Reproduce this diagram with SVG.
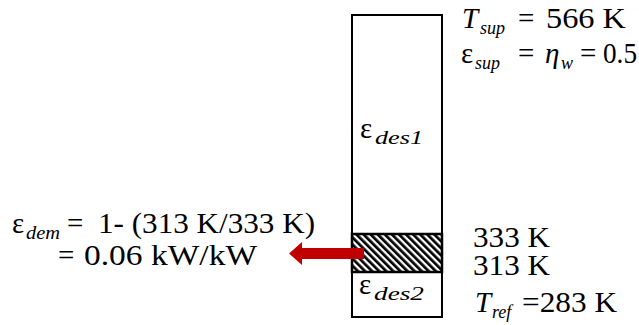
<svg xmlns="http://www.w3.org/2000/svg" width="639" height="325" viewBox="0 0 639 325">
  <style>
    text { font-family: "Liberation Serif", "Times New Roman", serif; font-size: 29px; fill: #000; }
    .i { font-style: italic; }
    .sub { font-style: italic; font-size: 18px; }
    .box { fill: #fff; stroke: #000; stroke-width: 2; }
  </style>
  <defs>
    <!-- diagonal black/white hatching for the 313–333 K band -->
    <pattern id="hatch" patternUnits="userSpaceOnUse" width="5" height="5" patternTransform="rotate(-45)">
      <rect width="5" height="5" fill="#fff"/>
      <rect width="2.7" height="5" fill="#000"/>
    </pattern>
  </defs>

  <!-- storage column -->
  <g id="column">
    <rect class="box" x="352" y="15" width="90" height="302"/>
  </g>

  <!-- hatched band between 333 K and 313 K -->
  <g id="band">
    <rect x="352" y="234" width="90" height="38" fill="url(#hatch)" stroke="#000" stroke-width="2.5"/>
  </g>

  <g id="connectors">
    <path d="M364,248 L302,248 L302,242 L289,253.5 L302,265 L302,259 L364,259 Z" fill="#c00000"/>
  </g>

  <g id="label-des1">
    <text x="360" y="138">ε</text>
    <text class="sub" x="375" y="144" textLength="48" lengthAdjust="spacingAndGlyphs">des1</text>
  </g>
  <g id="label-des2">
    <text x="359" y="294">ε</text>
    <text class="sub" x="374" y="300" textLength="50" lengthAdjust="spacingAndGlyphs">des2</text>
  </g>

  <g id="label-sup">
    <text class="i" x="462" y="28">T</text>
    <text class="sub" x="480" y="34">sup</text>
    <text x="518" y="28">=</text>
    <text x="546" y="28" textLength="80" lengthAdjust="spacingAndGlyphs">566 K</text>

    <text x="461" y="63">ε</text>
    <text class="sub" x="475" y="69">sup</text>
    <text x="518" y="63">=</text>
    <text class="i" x="545" y="63">η</text>
    <text class="sub" x="561" y="69">w</text>
    <text x="580" y="63">=</text>
    <text x="603" y="63" textLength="34" lengthAdjust="spacingAndGlyphs">0.5</text>
  </g>

  <g id="label-dem">
    <text x="12" y="233">ε</text>
    <text class="sub" x="26" y="239" textLength="34" lengthAdjust="spacingAndGlyphs">dem</text>
    <text x="67" y="233">=</text>
    <text x="98" y="233" textLength="217" lengthAdjust="spacingAndGlyphs">1- (313 K/333 K)</text>
    <text x="58" y="265">=</text>
    <text x="84" y="265" textLength="173" lengthAdjust="spacingAndGlyphs">0.06 kW/kW</text>
  </g>

  <g id="label-temps">
    <text x="473" y="247" textLength="77" lengthAdjust="spacingAndGlyphs">333 K</text>
    <text x="473" y="275" textLength="77" lengthAdjust="spacingAndGlyphs">313 K</text>
    <text class="i" x="475" y="312">T</text>
    <text class="sub" x="492" y="318">ref</text>
    <text x="522" y="312" textLength="95" lengthAdjust="spacingAndGlyphs">=283 K</text>
  </g>
</svg>
